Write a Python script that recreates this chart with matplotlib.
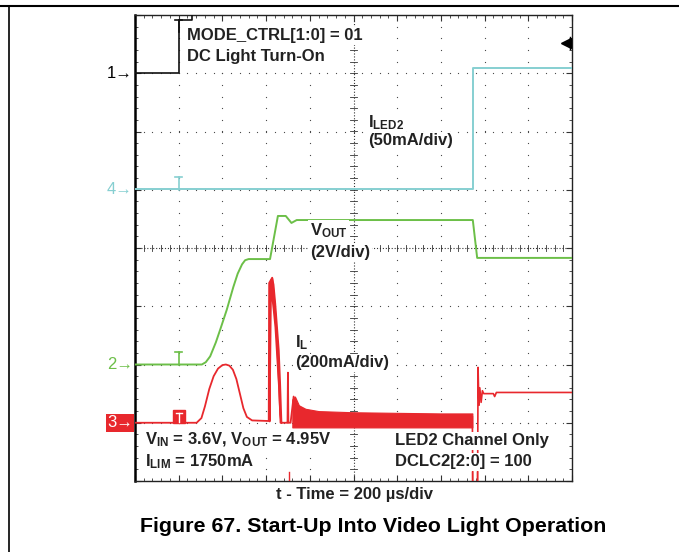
import matplotlib.pyplot as plt
import numpy as np
from matplotlib.lines import Line2D

plt.rcParams['font.family'] = ['Liberation Sans', 'DejaVu Sans']
plt.rcParams['mathtext.fontset'] = 'custom'
plt.rcParams['mathtext.rm'] = 'Liberation Sans:bold'
plt.rcParams['mathtext.bf'] = 'Liberation Sans:bold'
plt.rcParams['mathtext.it'] = 'Liberation Sans:bold'

# scope traces, in divisions (x: 0..10, y: -4..4)
ctrl_t = [0, 1.0, 1.0, 1.3, 1.3, 10]
ctrl_v = [3.0, 3.0, 3.92, 3.92, 4.4, 4.4]

iled_t = [0, 7.73, 7.73, 10]
iled_v = [1.02, 1.02, 3.09, 3.09]

vout_t = [0, 1.53, 1.62, 1.72, 1.85, 1.95, 2.10, 2.25, 2.35, 2.45, 2.52, 2.60,
          3.09, 3.27, 3.45, 3.58, 3.70, 7.73, 7.83, 10]
vout_v = [-2.0, -2.0, -1.96, -1.86, -1.62, -1.40, -1.06, -0.67, -0.44, -0.28, -0.21, -0.19,
          -0.19, 0.55, 0.55, 0.43, 0.48, 0.48, -0.17, -0.17]

il_t = [0, 1.41, 1.52, 1.60, 1.70, 1.80, 1.90, 2.00, 2.08, 2.16, 2.24, 2.32, 2.40, 2.48, 2.56, 2.68,
        3.06, 3.07, 3.14, 3.20, 3.25, 3.30, 3.33,
        3.48, 3.49, 3.50, 3.51, 3.56, 3.63, 3.70]
il_v = [-3.0, -3.0, -2.92, -2.72, -2.42, -2.20, -2.07, -2.01, -2.0, -2.02, -2.09, -2.25, -2.50, -2.75, -2.90, -2.96,
        -2.97, -0.6, -0.51, -1.0, -1.6, -2.4, -3.0,
        -3.0, -3.0, -2.14, -3.0, -3.0, -2.55, -2.78]

spike_t = [3.07, 3.10, 3.13, 3.16, 3.20, 3.24, 3.28, 3.31, 3.34]
spike_hi = [-0.9, -0.55, -0.51, -0.62, -0.95, -1.35, -1.75, -2.3, -2.97]
spike_lo = [-2.97, -0.85, -0.85, -1.05, -1.35, -1.85, -2.35, -2.85, -3.0]

band_t = [3.60, 3.66, 3.75, 3.9, 4.2, 5.0, 6.0, 7.0, 7.72]
band_hi = [-2.6, -2.55, -2.70, -2.76, -2.80, -2.82, -2.83, -2.84, -2.84]
band_lo = [-3.08, -3.08, -3.08, -3.08, -3.08, -3.08, -3.08, -3.08, -3.08]

il2_t = [7.72, 7.73, 7.84, 7.85, 7.87, 7.89, 7.92, 7.95, 7.98, 8.05, 8.20, 8.23, 8.27, 8.32, 10]
il2_v = [-2.9, -4.1, -4.1, -2.05, -2.7, -2.4, -2.65, -2.45, -2.5, -2.5, -2.5, -2.55, -2.48, -2.48, -2.48]

ch_levels = {'1': 3.0, '4': 1.0, '2': -2.0, '3': -3.0}

C_BLACK = '#111111'
C_CYAN = '#86cfd1'
C_GREEN = '#6cbf48'
C_RED = '#e8282d'

fig = plt.figure(figsize=(6.79, 5.52), dpi=100)
ax = fig.add_axes([135 / 679, 1 - 481 / 552, 437 / 679, 466 / 552])
ax.set_xlim(0, 10)
ax.set_ylim(-4, 4)

# graticule: dotted grid lines
fine_x = np.arange(0, 10.01, 0.2)
fine_y = np.arange(-4, 4.01, 0.2)
for gx in range(1, 10):
    if gx == 5:
        continue
    ax.scatter([gx] * len(fine_y), fine_y, s=0.8, color='#444444', lw=0, zorder=1)
for gy in range(-3, 4):
    if gy == 0:
        continue
    ax.scatter(fine_x, [gy] * len(fine_x), s=0.8, color='#444444', lw=0, zorder=1)
# center cross with minor ticks
ax.plot([0, 10], [0, 0], ls=':', color='#333333', lw=0.8, zorder=1)
ax.plot([5, 5], [-4, 4], ls=':', color='#333333', lw=0.8, zorder=1)
for fx in fine_x:
    ax.plot([fx, fx], [-0.06, 0.06], color='#333333', lw=0.6, zorder=1)
for fy in fine_y:
    ax.plot([4.92, 5.08], [fy, fy], color='#333333', lw=0.6, zorder=1)

# border ticks
ax.set_xticks(range(0, 11))
ax.set_yticks(range(-4, 5))
ax.set_xticks(fine_x, minor=True)
ax.set_yticks(fine_y, minor=True)
ax.tick_params(which='both', direction='in', top=True, right=True,
               labelbottom=False, labelleft=False, color='#333333')
ax.tick_params(which='major', length=4, width=0.8)
ax.tick_params(which='minor', length=2.5, width=0.6)
for s in ax.spines.values():
    s.set_color('#222222')
    s.set_linewidth(1.0)
ax.spines['left'].set_linewidth(1.8)
ax.spines['left'].set_color('black')

# traces
ax.plot(ctrl_t, ctrl_v, color=C_BLACK, lw=1.2, zorder=4)
ax.plot(iled_t, iled_v, color=C_CYAN, lw=1.4, zorder=4)
ax.plot(vout_t, vout_v, color=C_GREEN, lw=1.4, zorder=4)
ax.plot(il_t, il_v, color=C_RED, lw=1.3, zorder=4)
ax.fill_between(spike_t, spike_lo, spike_hi, color=C_RED, lw=1.2, edgecolor=C_RED, zorder=4)
ax.fill_between(band_t, band_lo, band_hi, color=C_RED, lw=0.8, edgecolor=C_RED, zorder=4)
ax.plot(il2_t, il2_v, color=C_RED, lw=1.2, zorder=4)

# trigger markers at t = 1 div
for lvl, col in [(1.0, C_CYAN), (-2.0, C_GREEN)]:
    ax.plot([1.0, 1.0], [lvl, lvl + 0.22], color=col, lw=1.2, zorder=5)
    ax.plot([0.92, 1.08], [lvl + 0.22, lvl + 0.22], color=col, lw=1.2, zorder=5)
ax.plot([1.0, 1.0], [3.70, 3.92], color=C_BLACK, lw=1.2, zorder=5)
ax.plot([0.92, 1.08], [3.92, 3.92], color=C_BLACK, lw=1.2, zorder=5)
ax.add_patch(plt.Rectangle((0.86, -3.0), 0.28, 0.22, color=C_RED, zorder=5))
ax.plot([1.0, 1.0], [-2.98, -2.84], color='white', lw=1.0, zorder=6)
ax.plot([0.93, 1.07], [-2.84, -2.84], color='white', lw=1.0, zorder=6)

# trigger level arrow and red time markers
ax.plot([9.86], [3.52], marker='<', color='black', ms=7, zorder=6, clip_on=False)
ax.plot([9.95, 9.95], [3.42, 3.62], color='black', lw=1.0, zorder=6)
for mx in [3.52, 7.71, 7.83]:
    ax.plot([mx, mx], [-4, -3.84], color=C_RED, lw=1.0, zorder=6)

# channel labels
lab_kw = dict(ha='right', va='center', fontsize=12, clip_on=False)
ax.text(-0.05, ch_levels['1'], '1\u2192', color='black', **lab_kw)
ax.text(-0.05, ch_levels['4'], '4\u2192', color=C_CYAN, **lab_kw)
ax.text(-0.05, ch_levels['2'], '2\u2192', color=C_GREEN, **lab_kw)
ax.text(-0.05, ch_levels['3'], '3\u2192', color='white', fontsize=12, ha='right', va='center',
        clip_on=False, bbox=dict(boxstyle='square,pad=0.08', fc=C_RED, ec='none'))

# annotations
box = dict(boxstyle='square,pad=0.1', fc='white', ec='none')
tk = dict(fontsize=12, fontweight='bold', color='#222222', va='center', ha='left', zorder=7, bbox=box)
ax.text(1.19, 3.64, 'MODE_CTRL[1:0] = 01', **tk)
ax.text(1.19, 3.28, 'DC Light Turn-On', **tk)
ax.text(5.33, 2.16, r'I$_{\mathrm{LED2}}$', **tk)
ax.text(5.33, 1.84, '(50mA/div)', **tk)
ax.text(4.0, 0.30, r'V$_{\mathrm{OUT}}$', **tk)
ax.text(4.0, -0.08, '(2V/div)', **tk)
ax.text(3.66, -1.63, r'I$_{\mathrm{L}}$', **tk)
ax.text(3.66, -1.97, '(200mA/div)', **tk)
ax.text(0.23, -3.30, r'V$_{\mathrm{IN}}$ = 3.6V, V$_{\mathrm{OUT}}$ = 4.95V', **tk)
ax.text(0.23, -3.67, r'I$_{\mathrm{LIM}}$ = 1750mA', **tk)
ax.text(5.95, -3.31, 'LED2 Channel Only', **tk)
ax.text(5.95, -3.67, 'DCLC2[2:0] = 100', **tk)

fig.text(354 / 679, 1 - 494 / 552, 't - Time = 200 \u00b5s/div', ha='center', va='center',
         fontsize=12, fontweight='bold', color='#222222')
fig.text(373 / 679, 1 - 527 / 552, 'Figure 67. Start-Up Into Video Light Operation', ha='center',
         va='center', fontsize=15.4, fontweight='bold', color='black')

# page rules
fig.add_artist(Line2D([0, 1], [1 - 6 / 552, 1 - 6 / 552], color='black', lw=1.5))
fig.add_artist(Line2D([9 / 679, 9 / 679], [0, 1 - 6 / 552], color='black', lw=1.2))

fig.savefig('out.png', dpi=100)
